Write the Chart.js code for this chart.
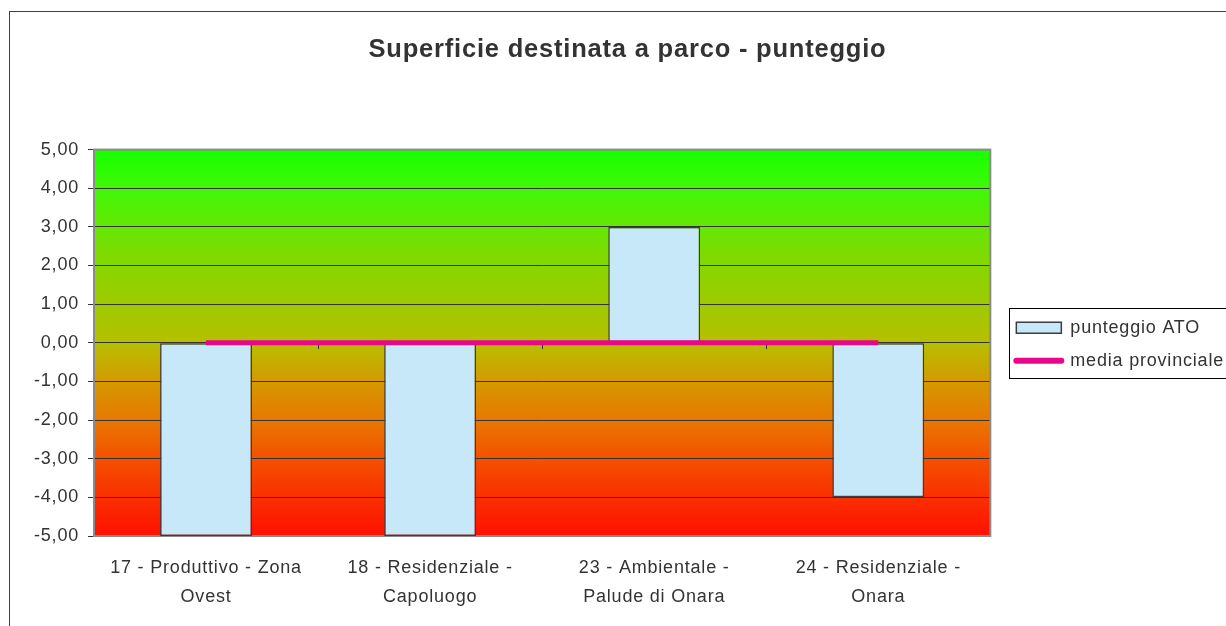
<!DOCTYPE html>
<html>
<head>
<meta charset="utf-8">
<script src="https://cdn.jsdelivr.net/npm/chart.js@4.4.1/dist/chart.umd.min.js"></script>
<style>
  html, body { margin: 0; padding: 0; background: #fff; }
  canvas { display: block; }
</style>
</head>
<body>
<canvas id="chart" width="1226" height="626"></canvas>
<script>
// categories (x labels, split on two lines like the original)
const categories = [
    ['17 - Produttivo - Zona', 'Ovest'],
    ['18 - Residenziale -', 'Capoluogo'],
    ['23 - Ambientale -', 'Palude di Onara'],
    ['24 - Residenziale -', 'Onara']
];
const punteggioAto = [-5, -5, 3, -4];
const mediaProvinciale = [0, 0, 0, 0];
const seriesNames = ['punteggio ATO', 'media provinciale'];
const yMin = -5;
const yMax = 5;
const yStep = 1;

const SPACING = '0.8px';
const textColor = '#333333';
const FONT = 'Liberation Sans, Arial, sans-serif';

// background gradient, frames, legend box
const decorations = {
    id: 'decorations',
    beforeLayout(chart) {
        chart.ctx.letterSpacing = SPACING;
    },
    afterLayout(chart) {
        // move the legend block next to the plot, centred on it
        const lg = chart.legend;
        const a = chart.chartArea;
        const dy = (a.top + a.bottom) / 2 - (lg.top + lg.bottom) / 2 + 1.5;
        const dx = 11;
        lg.top += dy; lg.bottom += dy;
        lg.left += dx; lg.right += dx;
    },
    beforeDraw(chart) {
        const ctx = chart.ctx;
        const a = chart.chartArea;
        ctx.letterSpacing = SPACING;
        ctx.save();
        ctx.fillStyle = '#fff';
        ctx.fillRect(0, 0, chart.width, chart.height);
        const g = ctx.createLinearGradient(0, a.top, 0, a.bottom);
        g.addColorStop(0, '#18ff00');
        g.addColorStop(0.1, '#40f808');
        g.addColorStop(0.3, '#88d600');
        g.addColorStop(0.5, '#b6bf00');
        g.addColorStop(0.6, '#d49a00');
        g.addColorStop(0.7, '#e87800');
        g.addColorStop(0.8, '#f55000');
        g.addColorStop(0.9, '#fa3000');
        g.addColorStop(1, '#ff1000');
        ctx.fillStyle = g;
        ctx.fillRect(a.left, a.top, a.right - a.left, a.bottom - a.top);
        // outer chart border (cut off on the right and bottom)
        ctx.strokeStyle = '#404040';
        ctx.lineWidth = 1;
        ctx.strokeRect(9.5, 11.5, chart.width + 20, chart.height + 20);
        ctx.restore();
    },
    beforeDatasetsDraw(chart) {
        const ctx = chart.ctx;
        const a = chart.chartArea;
        const x = chart.scales.x;
        const y0 = Math.round(chart.scales.y.getPixelForValue(0));
        ctx.save();
        ctx.strokeStyle = '#8a8a8a';
        ctx.lineWidth = 2;
        ctx.strokeRect(a.left, a.top, a.right - a.left, a.bottom - a.top);
        // small category ticks on the zero line
        ctx.strokeStyle = '#333';
        ctx.lineWidth = 1;
        for (let i = 0; i < categories.length - 1; i++) {
            const px = Math.round((x.getPixelForValue(i) + x.getPixelForValue(i + 1)) / 2) + 0.5;
            ctx.beginPath();
            ctx.moveTo(px, y0);
            ctx.lineTo(px, y0 + 6);
            ctx.stroke();
        }
        ctx.restore();
    },
    afterDraw(chart) {
        const ctx = chart.ctx;
        const boxes = chart.legend.legendHitBoxes;
        if (!boxes || !boxes.length) return;
        const first = boxes[0];
        const last = boxes[boxes.length - 1];
        const top = Math.round(first.top + first.height / 2 - 20) + 0.5;
        const bottom = Math.round(last.top + last.height / 2 + 17) + 0.5;
        const left = Math.round(first.left - 7) + 0.5;
        ctx.save();
        ctx.strokeStyle = '#000';
        ctx.lineWidth = 1;
        ctx.strokeRect(left, top, 300, bottom - top);
        ctx.restore();
    }
};

const ctx = document.getElementById('chart').getContext('2d');

new Chart(ctx, {
    type: 'bar',
    data: {
        labels: categories,
        datasets: [
            {
                label: seriesNames[0],
                data: punteggioAto,
                backgroundColor: '#c6e8f8',
                borderColor: '#3a3c48',
                borderWidth: 1.5,
                borderSkipped: false,
                categoryPercentage: 1,
                barPercentage: 0.41,
                order: 2
            },
            {
                type: 'line',
                label: seriesNames[1],
                data: mediaProvinciale,
                borderColor: '#e8078a',
                backgroundColor: '#e8078a',
                borderWidth: 5,
                pointRadius: 0,
                fill: false,
                order: 1
            }
        ]
    },
    options: {
        responsive: false,
        animation: false,
        layout: {
            padding: { left: 32, right: 3, top: 0, bottom: 0 }
        },
        plugins: {
            title: {
                display: true,
                text: 'Superficie destinata a parco - punteggio',
                color: textColor,
                font: { family: FONT, size: 25.5, weight: 'bold', lineHeight: 1.2 },
                padding: { top: 35, bottom: 84 }
            },
            legend: {
                position: 'right',
                labels: {
                    usePointStyle: true,
                    pointStyleWidth: 45,
                    boxHeight: 11,
                    padding: 15,
                    color: textColor,
                    font: { family: FONT, size: 18 },
                    generateLabels(chart) {
                        const ds = chart.data.datasets;
                        return [
                            { text: ds[0].label, fillStyle: ds[0].backgroundColor, strokeStyle: ds[0].borderColor,
                              lineWidth: 1.5, pointStyle: 'rect', datasetIndex: 0, hidden: false, fontColor: textColor },
                            { text: ds[1].label, fillStyle: ds[1].borderColor, strokeStyle: ds[1].borderColor,
                              lineWidth: 6, lineCap: 'round', pointStyle: 'line', datasetIndex: 1, hidden: false, fontColor: textColor }
                        ];
                    }
                }
            },
            tooltip: { enabled: false }
        },
        scales: {
            x: {
                grid: { display: false },
                border: { display: false },
                ticks: {
                    color: textColor,
                    maxRotation: 0,
                    autoSkip: false,
                    padding: 10,
                    font: { family: FONT, size: 18, lineHeight: 1.58 }
                },
                afterFit(scale) { scale.height = 90; }
            },
            y: {
                min: yMin,
                max: yMax,
                grid: { color: '#333', tickColor: '#333', tickLength: 6, lineWidth: 1 },
                border: { display: false },
                ticks: {
                    stepSize: yStep,
                    color: textColor,
                    padding: 9,
                    font: { family: FONT, size: 18 },
                    callback: (v) => v.toFixed(2).replace('.', ',')
                },
                afterFit(scale) { scale.width = 62; }
            }
        }
    },
    plugins: [decorations]
});
</script>
</body>
</html>
